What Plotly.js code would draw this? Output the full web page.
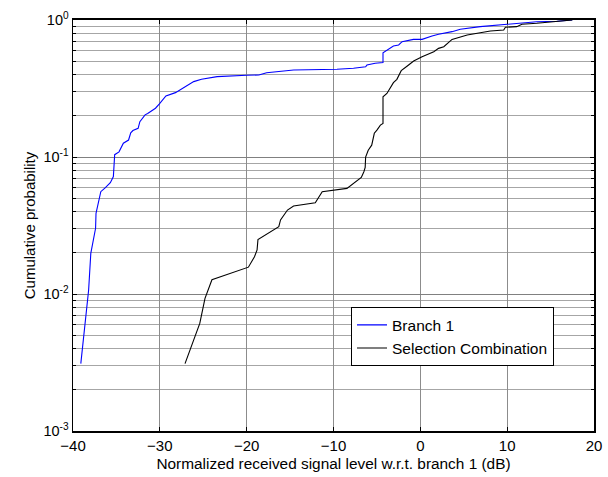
<!DOCTYPE html>
<html>
<head>
<meta charset="utf-8">
<script src="https://cdn.plot.ly/plotly-3.0.1.min.js"></script>
<style>html,body{margin:0;padding:0;background:#fff;}#chart{width:608px;height:477px;}</style>
</head>
<body>
<div id="chart"></div>
<script>
// Branch 1 CDF
const branch1X = [-39.1, -38.6, -38.2, -37.95, -37.7, -37.4, -37.35, -37.1, -36.8, -36.3, -35.7, -35.35, -35.3, -35.2, -34.7, -34.4, -34.2, -33.6, -33.35, -33.1, -32.5, -32.3, -31.7, -31.4, -30.5, -30.05, -29.3, -28.2, -27.1, -26.1, -25.2, -23.4, -20, -18.6, -17.7, -16.1, -14.6, -9.6, -7.7, -6.3, -6.15, -5.2, -4.3, -4.3, -3.5, -3.1, -2.5, -2.1, -0.8, 0.2, 1.35, 2.1, 3.65, 4.6, 6.9, 9.2, 10.75, 13.4, 15.75, 17.5];
const branch1Y = [0.0031, 0.0061, 0.0107, 0.0198, 0.0248, 0.0302, 0.0388, 0.0459, 0.0558, 0.0596, 0.065, 0.072, 0.0874, 0.104, 0.109, 0.12, 0.126, 0.133, 0.15, 0.156, 0.162, 0.181, 0.203, 0.208, 0.227, 0.244, 0.279, 0.295, 0.326, 0.355, 0.369, 0.386, 0.395, 0.397, 0.412, 0.42, 0.432, 0.437, 0.444, 0.456, 0.469, 0.483, 0.489, 0.577, 0.621, 0.646, 0.657, 0.695, 0.722, 0.722, 0.764, 0.786, 0.822, 0.855, 0.894, 0.919, 0.946, 0.972, 0.98, 1.0];
// Selection Combination CDF
const selX = [-27.1, -25.4, -24.8, -24.0, -19.8, -19.1, -18.8, -18.7, -16.3, -16.1, -15.3, -14.6, -12.1, -11.3, -8.45, -7.6, -6.8, -6.5, -6.35, -6.3, -6.0, -5.6, -5.3, -5.0, -4.6, -4.3, -4.3, -3.85, -3.5, -3.1, -2.7, -2.4, -2.2, -1.5, -0.77, 0.2, 1.55, 2.1, 2.7, 3.65, 5.4, 6.9, 8.07, 9.6, 9.8, 11.1, 11.7, 13.4, 15.75, 17.5];
const selY = [0.0031, 0.0061, 0.0093, 0.0127, 0.0157, 0.0187, 0.021, 0.025, 0.031, 0.0347, 0.041, 0.0439, 0.0464, 0.0558, 0.059, 0.065, 0.071, 0.078, 0.084, 0.1, 0.112, 0.122, 0.149, 0.157, 0.171, 0.176, 0.275, 0.291, 0.317, 0.349, 0.369, 0.408, 0.427, 0.462, 0.502, 0.54, 0.587, 0.621, 0.638, 0.722, 0.778, 0.808, 0.831, 0.845, 0.885, 0.894, 0.93, 0.946, 0.972, 1.0];

const xTicks = [-40, -30, -20, -10, 0, 10, 20];
const yTicks = [0.001, 0.01, 0.1, 1];
const yTickText = ['10<sup>-3</sup>', '10<sup>-2</sup>', '10<sup>-1</sup>', '10<sup>0</sup>'];

const minorY = [];
for (let d = -3; d < 0; d++) {
  for (let m = 2; m <= 9; m++) minorY.push(m * Math.pow(10, d));
}

const fam = 'Liberation Sans, Arial, sans-serif';
const font = {family: fam, size: 15, color: '#000'};

const traces = [
  {x: branch1X, y: branch1Y, type: 'scatter', mode: 'lines', name: 'Branch 1',
   line: {color: '#0000ff', width: 1.1}},
  {x: selX, y: selY, type: 'scatter', mode: 'lines', name: 'Selection Combination',
   line: {color: '#000000', width: 1.1}}
];

const layout = {
  width: 608, height: 477,
  margin: {l: 73, r: 14, t: 20, b: 46},
  paper_bgcolor: '#fff', plot_bgcolor: '#fff',
  font: font,
  showlegend: true,
  legend: {x: 0.5336, y: 0.301, xanchor: 'left', yanchor: 'top',
           bgcolor: '#fff', bordercolor: '#000', borderwidth: 1,
           font: {family: fam, size: 15.5, color: '#000'},
           tracegroupgap: 0},
  xaxis: {
    range: [-40, 20], tickmode: 'array', tickvals: xTicks,
    ticks: 'inside', ticklen: 4, tickcolor: '#000',
    showline: true, linecolor: '#000', linewidth: 2, mirror: 'allticks',
    showgrid: true, gridcolor: '#8c8c8c', gridwidth: 1,
    zeroline: false,
    tickfont: font,
    title: {text: 'Normalized received signal level w.r.t. branch 1 (dB)', font: {family: fam, size: 15.4, color: '#000'}, standoff: 5}
  },
  yaxis: {
    type: 'log', range: [-3, 0], tickmode: 'array', tickvals: yTicks, ticktext: yTickText,
    ticks: 'inside', ticklen: 4, tickcolor: '#000',
    showline: true, linecolor: '#000', linewidth: 1.5, mirror: 'allticks',
    showgrid: true, gridcolor: '#808080', gridwidth: 1,
    zeroline: false,
    tickfont: {family: fam, size: 14.5, color: '#000'},
    minor: {tickmode: 'array', tickvals: minorY, ticks: 'inside', ticklen: 3, tickcolor: '#000',
            showgrid: true, gridcolor: '#a6a6a6', gridwidth: 1},
    title: {text: 'Cumulative probability', font: font, standoff: 4}
  }
};

Plotly.newPlot('chart', traces, layout, {staticPlot: true, displayModeBar: false});
</script>
</body>
</html>
